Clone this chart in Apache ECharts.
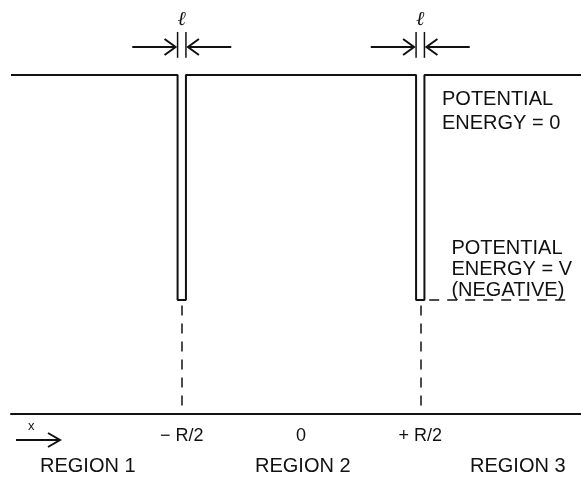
<!DOCTYPE html>
<html>
<head>
    <meta charset="utf-8">
    <title>Two narrow potential wells</title>
    <style>
        * { margin: 0; padding: 0; }
        body { background: #fff; }
        #main { width: 581px; height: 481px; }
    </style>
    <script src="https://cdn.jsdelivr.net/npm/echarts@6/dist/echarts.min.js"></script>
</head>
<body>
    <div id="main"></div>
    <script type="text/javascript">
        // x in units of R, potential energy in units of |V|
        const profileX = [-1.216, -0.5175, -0.5175, -0.4825, -0.4825, 0.4825, 0.4825, 0.5175, 0.5175, 1.174];
        const profileY = [0, 0, -1, -1, 0, 0, -1, -1, 0, 0];

        const wellCenters = [-0.5, 0.5];
        const wellWidth = 0.035;            // the width l
        const wellDepth = -1;               // V (negative)
        const axisLevel = -1.507;           // where the x axis sits
        const levelLineEnd = 1.137;         // dashed V level, right end

        const xTicks = [-0.5, 0, 0.5];
        const xTickLabels = ['\u2212 R/2', '0', '+ R/2'];

        const regionNames = ['REGION 1', 'REGION 2', 'REGION 3'];

        const FONT = '"Liberation Sans", Arial, Helvetica, sans-serif';
        const INK = '#111';

        const chart = echarts.init(document.getElementById('main'));

        // the arrows that mark the width l above each well
        const arrowY = 0.124, arrowLen = 0.19, tickTop = 0.191, tickBot = 0.076, ellY = 0.244;

        function renderWidthMark(params, api) {
            const c = api.value(0);
            const pL = api.coord([c - wellWidth / 2, arrowY]);
            const pR = api.coord([c + wellWidth / 2, arrowY]);
            const pLs = api.coord([c - wellWidth / 2 - arrowLen, arrowY]);
            const pRe = api.coord([c + wellWidth / 2 + arrowLen, arrowY]);
            const yT = api.coord([c, tickTop])[1];
            const yB = api.coord([c, tickBot])[1];
            const pE = api.coord([c, ellY]);
            const y = pL[1];
            const st = { stroke: INK, lineWidth: 2, fill: null };
            return {
                type: 'group',
                children: [
                    { type: 'polyline', shape: { points: [pLs, [pL[0] - 2, y]] }, style: st },
                    { type: 'polyline', shape: { points: [[pL[0] - 13, y - 8], [pL[0] - 2, y], [pL[0] - 13, y + 8]] }, style: st },
                    { type: 'polyline', shape: { points: [pRe, [pR[0] + 2, y]] }, style: st },
                    { type: 'polyline', shape: { points: [[pR[0] + 13, y - 8], [pR[0] + 2, y], [pR[0] + 13, y + 8]] }, style: st },
                    { type: 'line', shape: { x1: pL[0], y1: yT, x2: pL[0], y2: yB }, style: { stroke: INK, lineWidth: 1.5 } },
                    { type: 'line', shape: { x1: pR[0], y1: yT, x2: pR[0], y2: yB }, style: { stroke: INK, lineWidth: 1.5 } },
                    { type: 'text', x: pE[0], y: pE[1], style: { text: '\u2113', font: 'italic 20px "DejaVu Serif", serif', fill: INK, align: 'center', verticalAlign: 'middle' } }
                ]
            };
        }

        const option = {
            animation: false,
            backgroundColor: '#fff',
            grid: { left: 11, right: 0, top: 0, bottom: 67 },
            xAxis: {
                type: 'value',
                min: -1.216,
                max: 1.174,
                axisLine: { show: true, onZero: false, lineStyle: { color: INK, width: 2 } },
                axisTick: { show: false },
                splitLine: { show: false },
                axisLabel: {
                    customValues: xTicks,
                    formatter: v => xTickLabels[xTicks.indexOf(v)],
                    margin: 13,
                    color: INK,
                    fontFamily: FONT,
                    fontSize: 18
                }
            },
            yAxis: {
                type: 'value',
                min: axisLevel,
                max: 0.333,
                show: false
            },
            series: [
                {
                    name: 'potential',
                    type: 'line',
                    data: profileX.map((x, i) => [x, profileY[i]]),
                    symbol: 'none',
                    lineStyle: { color: INK, width: 2 },
                    clip: false
                },
                {
                    name: 'wellAxes',
                    type: 'lines',
                    coordinateSystem: 'cartesian2d',
                    data: wellCenters.map(c => ({ coords: [[c, wellDepth - 0.025], [c, axisLevel]] }))
                        .concat([{ coords: [[wellCenters[1] + wellWidth / 2 + 0.02, wellDepth], [levelLineEnd, wellDepth]] }]),
                    lineStyle: { color: INK, width: 1.5, type: [10, 8], opacity: 1 }
                },
                {
                    name: 'widthMarks',
                    type: 'custom',
                    data: wellCenters.map(c => [c]),
                    renderItem: renderWidthMark,
                    clip: false
                }
            ],
            graphic: [
                { type: 'text', left: 442, top: 87, style: { text: 'POTENTIAL\nENERGY = 0', font: '20px ' + FONT, fill: INK, lineHeight: 24 } },
                { type: 'text', right: 9, top: 238, style: { text: 'POTENTIAL\nENERGY = V\n(NEGATIVE)', font: '20px ' + FONT, fill: INK, lineHeight: 21, align: 'right' } },
                { type: 'text', left: 28, top: 420, style: { text: 'x', font: '13px ' + FONT, fill: INK } },
                { type: 'polyline', shape: { points: [[16, 440], [60, 440]] }, style: { stroke: INK, lineWidth: 2 } },
                { type: 'polyline', shape: { points: [[48, 433], [60, 440], [48, 447]] }, style: { stroke: INK, lineWidth: 2, fill: null } },
                { type: 'text', left: 40, top: 456, style: { text: regionNames[0], font: '20px ' + FONT, fill: INK } },
                { type: 'text', left: 255, top: 456, style: { text: regionNames[1], font: '20px ' + FONT, fill: INK } },
                { type: 'text', left: 470, top: 456, style: { text: regionNames[2], font: '20px ' + FONT, fill: INK } }
            ]
        };

        chart.setOption(option);
    </script>
</body>
</html>
